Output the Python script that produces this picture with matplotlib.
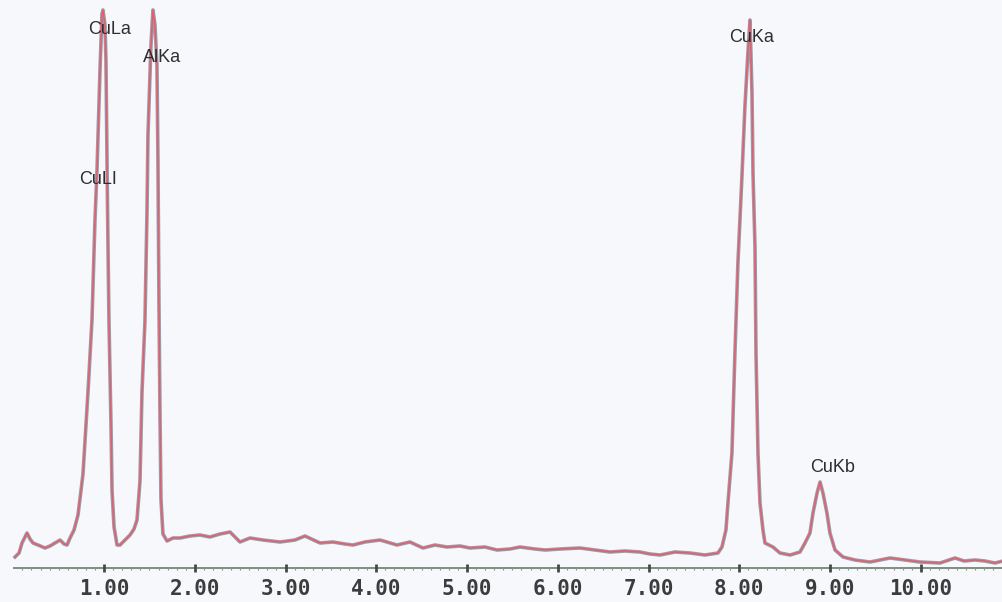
import matplotlib.pyplot as plt

# EDS spectrum (energy in keV, counts in arbitrary units)
energy = [0.019, 0.063, 0.096, 0.129, 0.151, 0.184, 0.217, 0.272, 0.349, 0.404,
          0.459, 0.515, 0.559, 0.592, 0.625, 0.669, 0.713, 0.768, 0.823, 0.867,
          0.900, 0.922, 0.955, 0.977, 0.988, 1.010, 1.021, 1.038, 1.054, 1.077,
          1.088, 1.110, 1.143, 1.176, 1.231, 1.286, 1.330, 1.363, 1.396, 1.418,
          1.451, 1.473, 1.484, 1.517, 1.539, 1.561, 1.583, 1.594, 1.605, 1.616,
          1.627, 1.649, 1.694, 1.760, 1.837, 1.947, 2.057, 2.167, 2.278, 2.388,
          2.498, 2.608, 2.751, 2.939, 3.104, 3.214, 3.380, 3.523, 3.655, 3.743,
          3.875, 4.041, 4.228, 4.371, 4.514, 4.647, 4.779, 4.922, 5.032, 5.198,
          5.330, 5.473, 5.583, 5.749, 5.859, 6.024, 6.245, 6.410, 6.575, 6.740,
          6.906, 7.016, 7.126, 7.291, 7.457, 7.622, 7.765, 7.809, 7.853, 7.875,
          7.919, 7.952, 7.985, 8.029, 8.062, 8.095, 8.118, 8.140, 8.151, 8.173,
          8.184, 8.206, 8.228, 8.261, 8.283, 8.371, 8.448, 8.559, 8.669, 8.724,
          8.779, 8.812, 8.857, 8.890, 8.922, 8.966, 8.999, 9.055, 9.143, 9.275,
          9.440, 9.551, 9.661, 9.826, 9.991, 10.212, 10.377, 10.478, 10.597, 10.707,
          10.818, 10.906]
counts = [11, 15, 25, 31, 35, 29, 25, 23, 20, 22,
          25, 28, 24, 23, 30, 38, 53, 94, 176, 248,
          348, 397, 497, 554, 558, 543, 508, 362, 248, 141,
          77, 41, 23, 23, 28, 33, 39, 48, 87, 176,
          248, 355, 433, 523, 558, 543, 503, 408, 265, 158,
          69, 34, 27, 30, 30, 32, 33, 31, 34, 36,
          26, 30, 28, 26, 28, 32, 25, 26, 24, 23,
          26, 28, 23, 26, 20, 23, 21, 22, 20, 21,
          18, 19, 21, 19, 18, 19, 20, 18, 16, 17,
          16, 14, 13, 16, 15, 13, 15, 21, 38, 65,
          115, 215, 305, 391, 461, 515, 548, 475, 395, 321,
          215, 115, 65, 38, 25, 21, 15, 13, 16, 25,
          35, 55, 75, 86, 75, 55, 35, 18, 11, 8,
          6, 8, 10, 8, 6, 5, 10, 7, 8, 7,
          5, 7]

peak_names = ["CuLa", "AlKa", "CuLI", "CuKa", "CuKb"]
peak_x = [1.066, 1.639, 0.933, 8.140, 9.030]
peak_y = [538, 511, 388, 531, 101]

ticks = [1, 2, 3, 4, 5, 6, 7, 8, 9, 10]
tick_labels = ["1.00", "2.00", "3.00", "4.00", "5.00",
               "6.00", "7.00", "8.00", "9.00", "10.00"]
minor = [i / 10 for i in range(1, 109)]

bg = "#f7f8fb"
fig = plt.figure(figsize=(10.03, 6.02), dpi=100, facecolor=bg)
ax = fig.add_axes([0, 0, 1, 1], facecolor=bg)
ax.set_xlim(-0.1466, 10.906)
ax.set_ylim(-34, 568)
ax.axis("off")

# spectrum: grey trace with red trace on top
ax.plot(energy, counts, color="#9a9aaa", lw=2.6, solid_joinstyle="round")
ax.plot(energy, counts, color="#ec5a66", lw=1.0)

# energy axis
ax.hlines(0, 0, 10.906, color="#6b7b6e", lw=1.2)
ax.vlines(minor, -1.5, 1.5, color="#8a948c", lw=0.8)
ax.vlines(ticks, -4, 4, color="#444c46", lw=2)
for t, lab in zip(ticks, tick_labels):
    ax.text(t, -21, lab, ha="center", va="center", fontsize=15,
            family="DejaVu Sans Mono", weight="bold", color="#3c3c3c")

for name, x, y in zip(peak_names, peak_x, peak_y):
    ax.text(x, y, name, ha="center", va="center", fontsize=13,
            family="Liberation Sans", color="#2e2e2e")

plt.savefig("out.png", dpi=100, facecolor=bg)
